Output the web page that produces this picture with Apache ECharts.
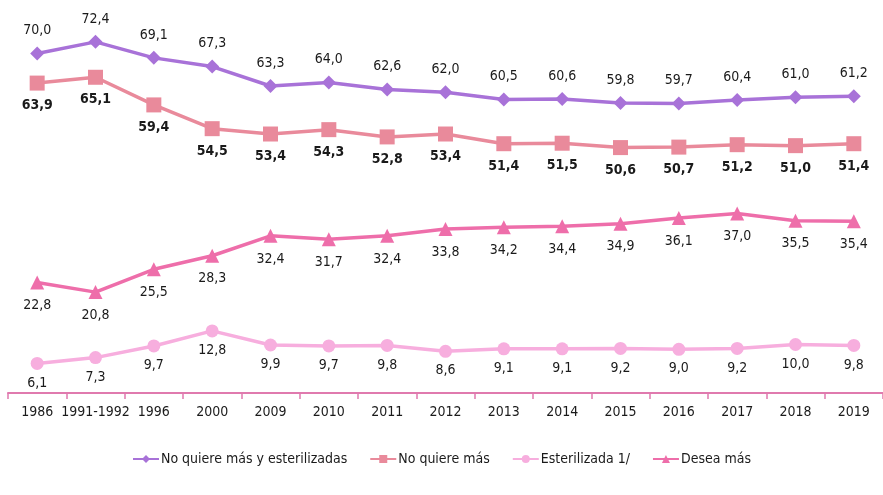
<!DOCTYPE html>
<html>
<head>
<meta charset="utf-8">
<script src="https://cdn.jsdelivr.net/npm/echarts@6/dist/echarts.min.js"></script>
<style>
  html, body { margin: 0; padding: 0; background: #fff; }
  #chart { width: 883px; height: 495px; }
</style>
</head>
<body>
<div id="chart"></div>
<script>
  const years = ['1986', '1991-1992', '1996', '2000', '2009', '2010', '2011', '2012', '2013', '2014', '2015', '2016', '2017', '2018', '2019'];
  const noQuiereEster = [70.0, 72.4, 69.1, 67.3, 63.3, 64.0, 62.6, 62.0, 60.5, 60.6, 59.8, 59.7, 60.4, 61.0, 61.2];
  const noQuiere = [63.9, 65.1, 59.4, 54.5, 53.4, 54.3, 52.8, 53.4, 51.4, 51.5, 50.6, 50.7, 51.2, 51.0, 51.4];
  const esterilizada = [6.1, 7.3, 9.7, 12.8, 9.9, 9.7, 9.8, 8.6, 9.1, 9.1, 9.2, 9.0, 9.2, 10.0, 9.8];
  const deseaMas = [22.8, 20.8, 25.5, 28.3, 32.4, 31.7, 32.4, 33.8, 34.2, 34.4, 34.9, 36.1, 37.0, 35.5, 35.4];

  const font = "'Liberation Sans Narrow', 'Arial Narrow', 'DejaVu Sans Condensed', 'Liberation Sans', Arial, sans-serif";
  const fmt = (p) => p.value.toFixed(1).replace('.', ',');

  function line(name, data, color, symbol, size, pos, bold, dist) {
    return {
      name: name,
      type: 'line',
      data: data,
      symbol: symbol,
      symbolSize: size,
      lineStyle: { color: color, width: 3.5 },
      itemStyle: { color: color },
      label: {
        show: true,
        position: pos,
        distance: dist,
        formatter: fmt,
        color: '#1a1a1a',
        fontFamily: font,
        fontSize: 14,
        fontWeight: bold ? 'bold' : 'normal'
      }
    };
  }

  const chart = echarts.init(document.getElementById('chart'));
  chart.setOption({
    animation: false,
    textStyle: { fontFamily: font },
    grid: { left: 8, right: -4, top: 5, bottom: 102 },
    legend: {
      bottom: 24,
      left: 'center',
      itemWidth: 26,
      itemHeight: 10,
      itemGap: 22,
      textStyle: { fontFamily: font, fontSize: 14, color: '#1a1a1a', padding: [0, 0, 0, -3] },
      data: ['No quiere más y esterilizadas', 'No quiere más', 'Esterilizada 1/', 'Desea más']
    },
    xAxis: {
      type: 'category',
      data: years,
      boundaryGap: true,
      axisLine: { lineStyle: { color: '#E07AAE', width: 2 } },
      axisTick: { show: true, length: 6, lineStyle: { color: '#E07AAE', width: 1.5 } },
      axisLabel: { color: '#1a1a1a', fontSize: 14, fontFamily: font, margin: 12, interval: 0 }
    },
    yAxis: {
      type: 'value',
      min: 0,
      max: 80,
      show: false,
      splitLine: { show: false }
    },
    series: [
      line('No quiere más y esterilizadas', noQuiereEster, '#A872D8', 'diamond', 14, 'top', false, 9),
      line('No quiere más', noQuiere, '#E98A9B', 'rect', 15, 'bottom', true, 8),
      line('Esterilizada 1/', esterilizada, '#F7AEDE', 'circle', 13, 'bottom', false, 6),
      line('Desea más', deseaMas, '#EE6EAA', 'triangle', 14, 'bottom', false, 9)
    ]
  });
</script>
</body>
</html>
